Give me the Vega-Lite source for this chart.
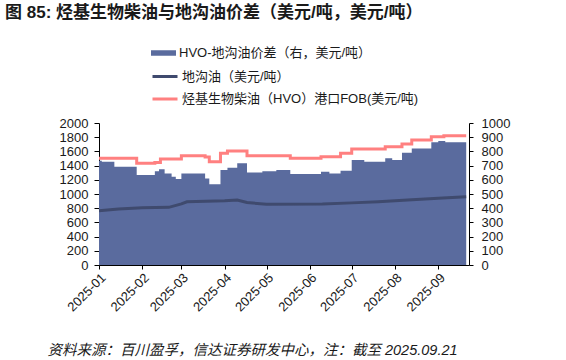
{
  "$schema": "https://vega.github.io/schema/vega-lite/v6.json",
  "autosize": {"type": "none"},
  "width": 370,
  "height": 142,
  "padding": {"left": 99, "top": 123, "right": 97, "bottom": 95},
  "title": {
    "text": "图 85: 烃基生物柴油与地沟油价差（美元/吨，美元/吨）",
    "anchor": "start",
    "frame": "group",
    "dx": -94,
    "dy": 2,
    "offset": 22,
    "font": "Liberation Sans, Noto Sans CJK SC",
    "fontSize": 17,
    "fontWeight": "bold",
    "color": "#1a1a1a"
  },
  "datasets": {
    "spread": [
      {"date": "2025-01-01", "v": 734},
      {"date": "2025-01-03", "v": 727},
      {"date": "2025-01-12", "v": 692},
      {"date": "2025-01-28", "v": 634},
      {"date": "2025-02-10", "v": 660},
      {"date": "2025-02-13", "v": 674},
      {"date": "2025-02-17", "v": 645},
      {"date": "2025-02-22", "v": 622},
      {"date": "2025-02-25", "v": 605},
      {"date": "2025-03-01", "v": 645},
      {"date": "2025-03-18", "v": 610},
      {"date": "2025-03-21", "v": 568},
      {"date": "2025-03-29", "v": 669},
      {"date": "2025-04-03", "v": 685},
      {"date": "2025-04-10", "v": 716},
      {"date": "2025-04-17", "v": 652},
      {"date": "2025-04-28", "v": 660},
      {"date": "2025-05-08", "v": 669},
      {"date": "2025-05-18", "v": 640},
      {"date": "2025-06-09", "v": 657},
      {"date": "2025-06-15", "v": 645},
      {"date": "2025-06-23", "v": 664},
      {"date": "2025-07-01", "v": 739},
      {"date": "2025-07-10", "v": 727},
      {"date": "2025-07-25", "v": 751},
      {"date": "2025-07-30", "v": 739},
      {"date": "2025-08-06", "v": 791},
      {"date": "2025-08-13", "v": 821},
      {"date": "2025-08-27", "v": 864},
      {"date": "2025-09-01", "v": 873},
      {"date": "2025-09-06", "v": 864},
      {"date": "2025-09-21", "v": 864}
    ],
    "hvo": [
      {"date": "2025-01-01", "v": 1505},
      {"date": "2025-01-28", "v": 1432},
      {"date": "2025-02-10", "v": 1445},
      {"date": "2025-02-14", "v": 1493},
      {"date": "2025-03-01", "v": 1540},
      {"date": "2025-03-18", "v": 1520},
      {"date": "2025-03-21", "v": 1455},
      {"date": "2025-03-29", "v": 1573},
      {"date": "2025-04-03", "v": 1605},
      {"date": "2025-04-17", "v": 1540},
      {"date": "2025-05-18", "v": 1502},
      {"date": "2025-06-09", "v": 1525},
      {"date": "2025-06-23", "v": 1573},
      {"date": "2025-07-01", "v": 1633},
      {"date": "2025-07-25", "v": 1666},
      {"date": "2025-08-06", "v": 1704},
      {"date": "2025-08-13", "v": 1760},
      {"date": "2025-08-27", "v": 1807},
      {"date": "2025-09-05", "v": 1821},
      {"date": "2025-09-21", "v": 1821}
    ],
    "ugo": [
      {"date": "2025-01-01", "v": 765},
      {"date": "2025-01-15", "v": 790},
      {"date": "2025-02-01", "v": 805},
      {"date": "2025-02-20", "v": 812},
      {"date": "2025-03-01", "v": 860},
      {"date": "2025-03-05", "v": 891},
      {"date": "2025-04-01", "v": 905},
      {"date": "2025-04-10", "v": 915},
      {"date": "2025-04-17", "v": 880},
      {"date": "2025-05-01", "v": 855},
      {"date": "2025-06-10", "v": 858},
      {"date": "2025-07-01", "v": 875},
      {"date": "2025-07-20", "v": 890},
      {"date": "2025-08-10", "v": 915},
      {"date": "2025-09-01", "v": 940},
      {"date": "2025-09-21", "v": 960}
    ]
  },
  "layer": [
    {
      "data": {"name": "spread"},
      "mark": {"type": "area", "interpolate": "step-after", "opacity": 1},
      "encoding": {
        "x": {
          "field": "date",
          "type": "temporal",
          "scale": {"domain": ["2025-01-01", "2025-09-23"]},
          "axis": {
            "format": "%Y-%m",
            "tickCount": {"interval": "month", "step": 1},
            "labelAngle": -45,
            "labelFontSize": 13,
            "labelOverlap": false,
            "labelBound": false,
            "labelFlush": false,
            "tickSize": 4,
            "labelPadding": 2,
            "title": "资料来源：百川盈孚，信达证券研发中心，注：截至 2025.09.21",
            "titleFont": "Liberation Sans, Noto Sans CJK SC",
            "titleFontSize": 14.5,
            "titleFontStyle": "italic",
            "titleFontWeight": "normal",
            "titleColor": "#1a1a1a",
            "titleX": 153,
            "titleY": 78,
            "titleAlign": "center",
            "titleBaseline": "top"
          }
        },
        "y": {
          "field": "v",
          "type": "quantitative",
          "scale": {"domain": [0, 1000]},
          "axis": {
            "orient": "right",
            "title": null,
            "format": "d",
            "labelOverlap": false,
            "labelFlush": false,
            "values": [0, 100, 200, 300, 400, 500, 600, 700, 800, 900, 1000],
            "tickSize": 4,
            "labelPadding": 8
          }
        },
        "fill": {
          "datum": "HVO-地沟油价差（右，美元/吨）",
          "scale": {"range": ["#5a6b9e"]},
          "legend": {
            "orient": "none",
            "legendX": 52,
            "legendY": -81,
            "title": null,
            "symbolType": "M-1,-0.22H1V0.22H-1Z",
            "symbolSize": 625,
            "symbolStrokeWidth": 0,
            "clipHeight": 22,
            "labelOffset": 3,
            "padding": 0
          }
        }
      }
    },
    {
      "layer": [
        {
          "data": {"name": "ugo"},
          "mark": {"type": "line", "strokeWidth": 3},
          "encoding": {
            "x": {"field": "date", "type": "temporal"},
            "y": {
              "field": "v",
              "type": "quantitative",
              "scale": {"domain": [0, 2000]},
              "axis": {
                "orient": "left",
                "title": null,
                "format": "d",
                "labelOverlap": false,
                "labelFlush": false,
                "values": [0, 200, 400, 600, 800, 1000, 1200, 1400, 1600, 1800, 2000],
                "tickSize": 5,
                "labelPadding": 6
              }
            },
            "stroke": {"datum": "地沟油（美元/吨）"}
          }
        },
        {
          "data": {"name": "hvo"},
          "mark": {"type": "line", "interpolate": "step-after", "strokeWidth": 3},
          "encoding": {
            "x": {"field": "date", "type": "temporal"},
            "y": {
              "field": "v",
              "type": "quantitative",
              "scale": {"domain": [0, 2000]},
              "axis": {
                "orient": "left",
                "title": null,
                "format": "d",
                "labelOverlap": false,
                "labelFlush": false,
                "values": [0, 200, 400, 600, 800, 1000, 1200, 1400, 1600, 1800, 2000],
                "tickSize": 5,
                "labelPadding": 6
              }
            },
            "stroke": {
              "datum": "烃基生物柴油（HVO）港口FOB(美元/吨)",
              "scale": {
                "domain": ["地沟油（美元/吨）", "烃基生物柴油（HVO）港口FOB(美元/吨)"],
                "range": ["#3f4a6e", "#ff8080"]
              },
              "legend": {
                "orient": "none",
                "legendX": 52,
                "legendY": -57.5,
                "title": null,
                "symbolType": "stroke",
                "symbolSize": 625,
                "symbolStrokeWidth": 3,
                "clipHeight": 22,
                "rowPadding": 0.5,
                "labelOffset": 3,
                "padding": 0
              }
            }
          }
        }
      ]
    }
  ],
  "resolve": {"scale": {"y": "independent"}},
  "config": {
    "view": {"stroke": null},
    "font": "Liberation Sans, Noto Sans CJK SC",
    "axis": {
      "grid": false,
      "domainColor": "#000",
      "tickColor": "#000",
      "labelColor": "#1a1a1a",
      "labelFont": "Liberation Sans, Noto Sans CJK SC",
      "labelFontSize": 13
    },
    "legend": {
      "labelFont": "Liberation Sans, Noto Sans CJK SC",
      "labelFontSize": 13,
      "labelColor": "#1a1a1a",
      "labelLimit": 400
    }
  }
}
